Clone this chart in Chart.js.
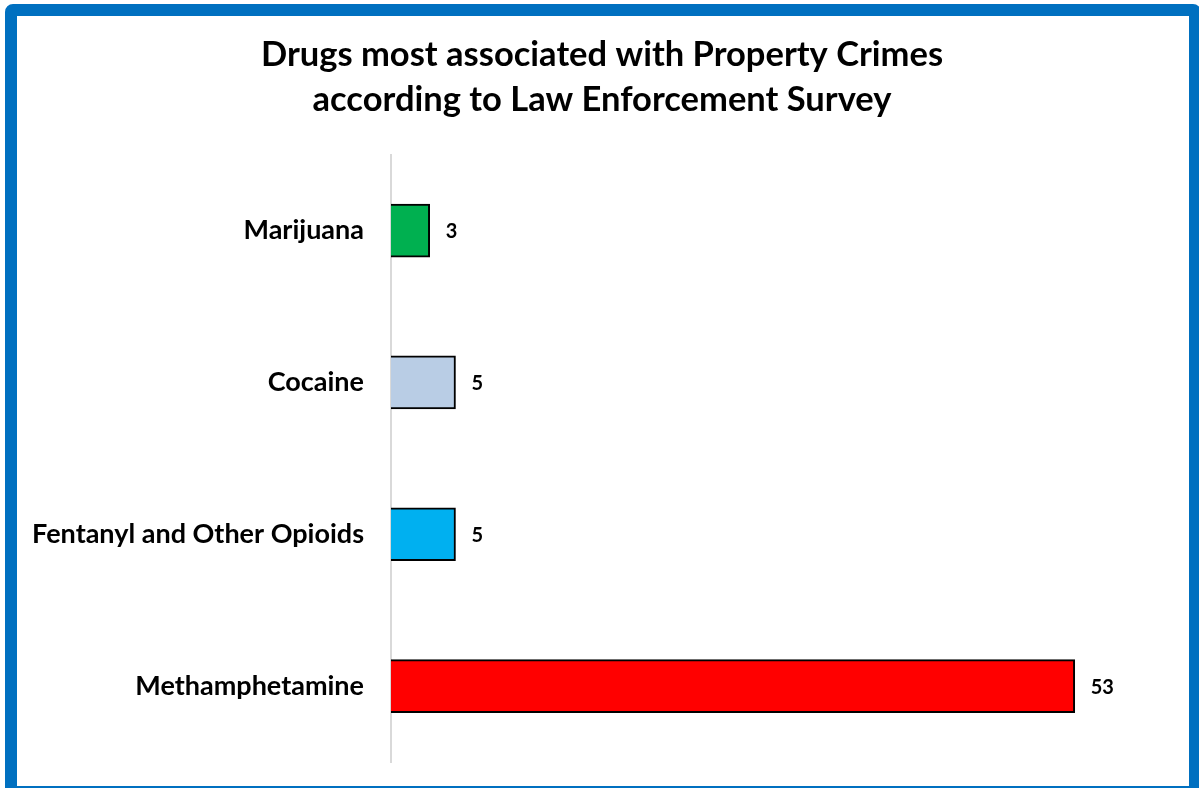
<!DOCTYPE html>
<html>
<head>
<meta charset="utf-8">
<script src="https://cdn.jsdelivr.net/npm/chart.js@4/dist/chart.umd.min.js"></script>
<style>
  html, body { margin: 0; padding: 0; background: #ffffff; overflow: hidden; }
  #wrap { position: relative; width: 1199px; height: 788px; }
  #wrap canvas { position: absolute; left: 0; top: 0; }
  #frame {
    position: absolute; left: 5px; top: 4px; right: -2px; bottom: -10px;
    border: 12px solid #0070C0; border-radius: 8px; pointer-events: none;
  }
</style>
</head>
<body>
<div id="wrap">
  <canvas id="chart" width="1199" height="788"></canvas>
  <div id="frame"></div>
</div>
<script>
// Survey responses per drug
const categories = ['Marijuana', 'Cocaine', 'Fentanyl and Other Opioids', 'Methamphetamine'];
const responses = [3, 5, 5, 53];
const barColors = ['#00B050', '#B9CDE5', '#00B0F0', '#FF0000'];
const titleLines = ['Drugs most associated with Property Crimes', 'according to Law Enforcement Survey'];

const FONT = "Lato, 'Open Sans', 'DejaVu Sans', sans-serif";

// Writes each bar's value just past its end
const valueLabels = {
  id: 'valueLabels',
  afterDatasetsDraw(chart) {
    const ctx = chart.ctx;
    const meta = chart.getDatasetMeta(0);
    ctx.save();
    ctx.font = `bold 20px ${FONT}`;
    ctx.fillStyle = '#000000';
    ctx.textAlign = 'left';
    ctx.textBaseline = 'middle';
    meta.data.forEach((bar, i) => {
      ctx.fillText(String(chart.data.datasets[0].data[i]), bar.x + 16, bar.y + 1);
    });
    ctx.restore();
  }
};

new Chart(document.getElementById('chart'), {
  type: 'bar',
  data: {
    labels: categories,
    datasets: [{
      data: responses,
      backgroundColor: barColors,
      borderColor: '#000000',
      borderWidth: 2,
      barThickness: 53
    }]
  },
  options: {
    indexAxis: 'y',
    responsive: false,
    animation: false,
    layout: { padding: { left: 17, right: 12, top: 16, bottom: 26 } },
    plugins: {
      legend: { display: false },
      tooltip: { enabled: false },
      title: {
        display: true,
        text: titleLines,
        color: '#000000',
        font: { family: FONT, size: 34.5, weight: 'bold', lineHeight: 1.3 },
        padding: { top: 16.5, bottom: 32.5 }
      }
    },
    scales: {
      x: {
        display: false,
        min: 0,
        max: 61.7
      },
      y: {
        grid: { display: false, drawTicks: false },
        border: { display: true, color: '#D9D9D9', width: 2 },
        ticks: {
          color: '#000000',
          padding: 27,
          font: { family: FONT, size: 27, weight: 'bold' }
        },
        afterFit(scale) {
          scale.width = 374;
          scale.paddingTop = 0;
          scale.paddingBottom = 0;
        }
      }
    }
  },
  plugins: [valueLabels]
});
</script>
</body>
</html>
